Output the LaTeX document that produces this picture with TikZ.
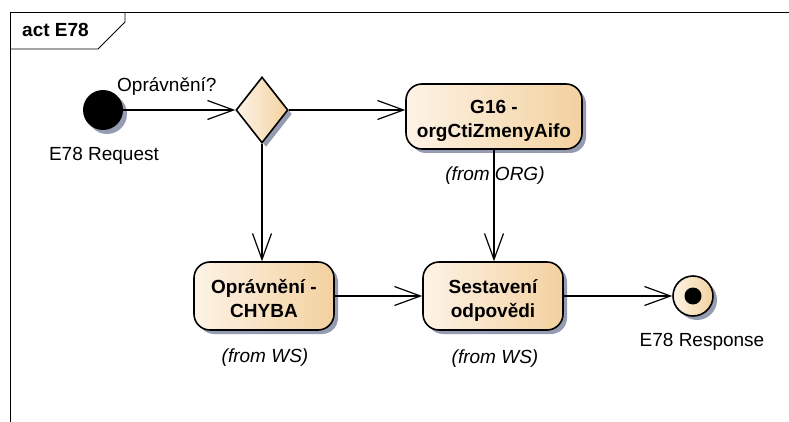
\documentclass[tikz,border=0pt]{standalone}
\usepackage{fontspec}
\setmainfont{Liberation Sans}
\usetikzlibrary{arrows.meta,shapes.geometric,shadows}
\definecolor{fillL}{HTML}{FDF3E6}
\definecolor{fillR}{HTML}{F3D19F}
\definecolor{shadowc}{HTML}{959BB0}
\begin{document}
\begin{tikzpicture}[x=1pt,y=-1pt,
  shad/.style={drop shadow={shadow xshift=4pt,shadow yshift=-4pt,fill=shadowc,opacity=1}},
  actbox/.style={rectangle,rounded corners=16pt,draw,line width=1.6pt,
    left color=fillL,right color=fillR,shad,inner sep=0pt,align=center,
    text height=42pt,text depth=0pt,
    font=\bfseries\fontsize{19}{24}\selectfont},
  startnode/.style={circle,fill=black,minimum size=40pt,inner sep=0pt,shad},
  endnode/.style={circle,draw,line width=1.6pt,left color=fillL,right color=fillR,
    minimum size=40pt,inner sep=0pt,shad},
  dot/.style={circle,fill=black,minimum size=17pt,inner sep=0pt},
  decision/.style={diamond,draw,line width=1.6pt,left color=fillL,right color=fillR,
    minimum width=52pt,minimum height=66pt,inner sep=0pt,shad},
  lbl/.style={font=\fontsize{19}{24}\selectfont,inner sep=0pt},
  from/.style={font=\itshape\fontsize{19}{24}\selectfont,inner sep=0pt},
  flow/.style={draw,line width=1.2pt,-{Straight Barb[length=26pt,width=19pt]}},
  frame/.style={draw,line width=0.8pt}]
\useasboundingbox (0,0) rectangle (789,422);
% frame
\draw[frame] (10,422) -- (10,12) -- (789,12);
\draw[frame] (10,49) -- (98,49) -- (125,22) -- (125,12);
\node[lbl,font=\bfseries\fontsize{19}{24}\selectfont,anchor=base west] (title) at (22,37) {act E78};
% nodes
\node[startnode] (init) at (103,110) {};
\node[decision] (dia) at (262,110) {};
\node[actbox,minimum width=176pt,minimum height=65pt] (g16) at (494,116.5) {G16 -\\orgCtiZmenyAifo};
\node[actbox,minimum width=140pt,minimum height=68pt] (chyba) at (264,296) {Oprávnění -\\CHYBA};
\node[actbox,minimum width=140pt,minimum height=68pt] (sest) at (493,296) {Sestavení\\odpovědi};
\node[endnode] (fin) at (693,296) {};
\node[dot] (findot) at (fin.center) {};
% labels
\node[lbl,anchor=base west] (lq) at (117,92) {Oprávnění?};
\node[lbl,anchor=base] (lreq) at (104,161) {E78 Request};
\node[lbl,anchor=base] (lresp) at (702,346) {E78 Response};
\node[from,anchor=base] (f1) at (495,181) {(from ORG)};
\node[from,anchor=base] (f2) at (265,362) {(from WS)};
\node[from,anchor=base] (f3) at (495,363) {(from WS)};
% connectors
\draw[flow] (init) -- (dia.west);
\draw[flow] (dia.east) -- (dia.east -| g16.west);
\draw[flow] (dia.south) -- (dia.south |- chyba.north);
\draw[flow] (g16.south) -- (g16.south |- sest.north);
\draw[flow] (chyba.east) -- (sest.west);
\draw[flow] (sest.east) -- (fin.west);
\end{tikzpicture}
\end{document}
